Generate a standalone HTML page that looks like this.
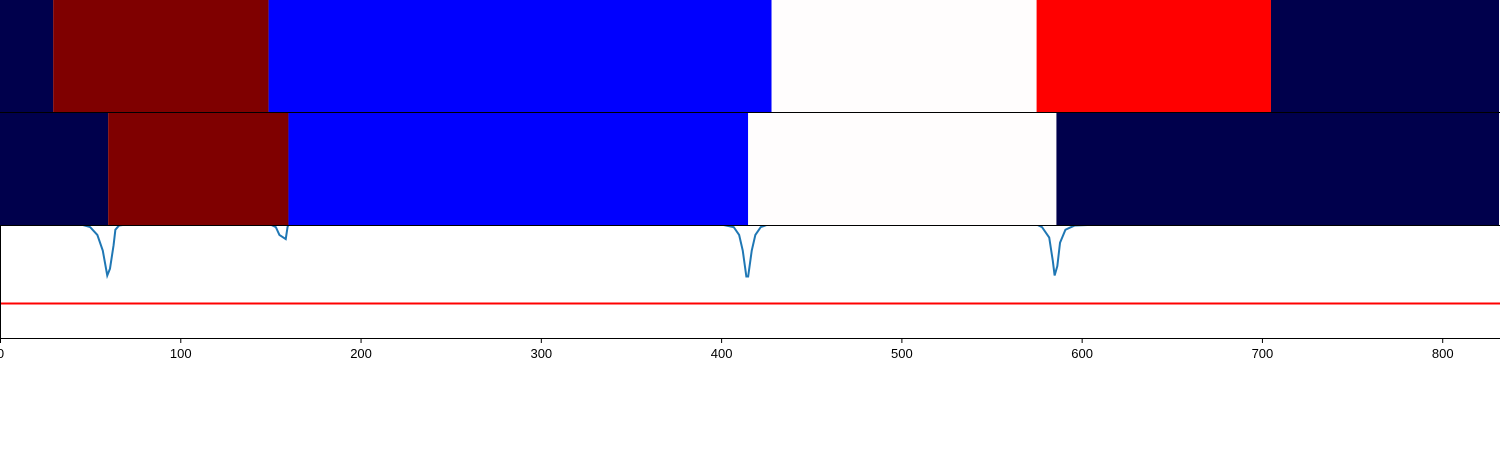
<!DOCTYPE html>
<html><head><meta charset="utf-8"><style>
body{margin:0;background:#fff;width:1500px;height:450px;overflow:hidden}
svg{display:block;font-family:"Liberation Sans",sans-serif}
</style></head><body>
<svg id="c" width="1500" height="450"><defs><clipPath id="clipB"><rect x="0" y="226" width="1500" height="112"/></clipPath></defs></svg>
<script>
const xMin=0, xMax=831.5;
const topEdges=[0,29.5,149,428,575,705,831.5];
const topColors=["#00004c","#7f0000","#0000ff","#fffdfd","#ff0000","#00004c"];
const midEdges=[0,60,160,415,586,831.5];
const midColors=["#00004c","#7f0000","#0000ff","#fffdfd","#00004c"];
const lineX=[0,45,50,54,57,59.5,61,63,64,66,70,150,153,155,158.5,159.5,160,400,407,410,412,414,415,417,419,422,426,575,578,582,584,585,586.5,588,591,596,610,832];
const lineY=[0,0,-0.05,-0.2,-0.5,-0.98,-0.85,-0.4,-0.1,-0.02,0,0,-0.05,-0.2,-0.28,-0.05,0,0,-0.05,-0.2,-0.5,-1.0,-1.0,-0.5,-0.2,-0.05,0,0,-0.05,-0.25,-0.7,-0.98,-0.8,-0.35,-0.1,-0.02,0,0];
const threshold=-1.52;
const xTicks=[0,100,200,300,400,500,600,700,800];
const NS="http://www.w3.org/2000/svg", svg=document.getElementById('c');
const X=v=>(v-xMin)/(xMax-xMin)*1499;
const Y=v=>224.5-v*52;
function mk(t,a){const e=document.createElementNS(NS,t);for(const k in a)e.setAttribute(k,a[k]);svg.appendChild(e);return e;}
function band(edges,colors,y0,h,nm){for(let i=0;i<colors.length;i++){const r=mk('rect',{x:X(edges[i]),y:y0,width:X(edges[i+1])-X(edges[i]),height:h,fill:colors[i]});

}}
band(topEdges,topColors,0,112,'top-row');
band(midEdges,midColors,113,112,'middle-row');
let sep=mk('line',{x1:0,x2:1500,y1:112.5,y2:112.5,stroke:'#000','stroke-width':1});


let sep2=mk('line',{x1:0,x2:1500,y1:225.5,y2:225.5,stroke:'#000','stroke-width':1});


let th=mk('line',{x1:0,x2:1500,y1:Y(threshold),y2:Y(threshold),stroke:'#ff0000','stroke-width':2});


let p=mk('polyline',{points:lineX.map((x,i)=>X(x)+','+Y(lineY[i])).join(' '),fill:'none',stroke:'#1f77b4','stroke-width':2,'clip-path':'url(#clipB)'});


let sp=mk('line',{x1:0.5,x2:0.5,y1:226,y2:338,stroke:'#000','stroke-width':1});


let ax=mk('line',{x1:0,x2:1500,y1:338.5,y2:338.5,stroke:'#000','stroke-width':1});


xTicks.forEach(v=>{
 let t=mk('line',{x1:X(v)+0.5,x2:X(v)+0.5,y1:338,y2:343,stroke:'#000','stroke-width':1});
 
 
 let l=mk('text',{x:X(v)+0.5,y:358,'text-anchor':'middle','font-size':13,fill:'#000'});
 l.textContent=v;
 
 
});
</script>
</body></html>
